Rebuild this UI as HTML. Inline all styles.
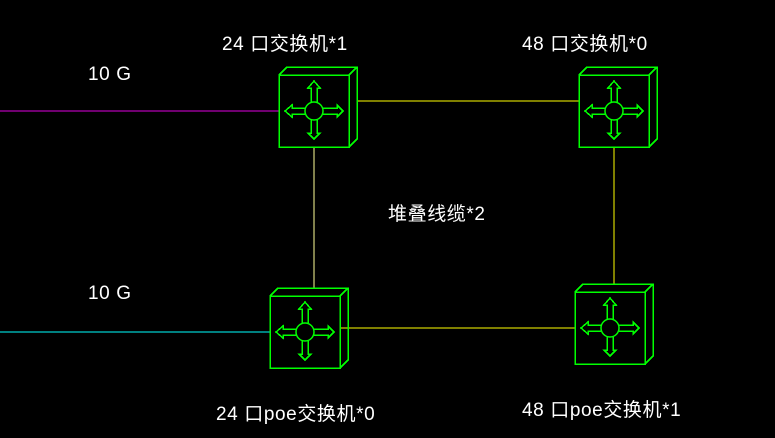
<!DOCTYPE html>
<html><head><meta charset="utf-8"><style>
html,body{margin:0;padding:0;background:#000;width:775px;height:438px;overflow:hidden}
text{font-family:"Liberation Sans","Noto Sans CJK SC",sans-serif;fill:#fff;font-size:19px;letter-spacing:0.6px}
</style></head><body>
<svg width="775" height="438" xmlns="http://www.w3.org/2000/svg" shape-rendering="crispEdges">
<defs>
<g id="sw" fill="none" stroke="#00ff00" stroke-width="1.5">
<rect x="0" y="0" width="70" height="72"/>
<polyline points="0,0 8,-8 78,-8 78,64 70,72"/>
<line x1="70" y1="0" x2="78" y2="-8"/>
<circle cx="35" cy="36" r="9" shape-rendering="auto"/>
<path d="M32,27 V13 H29 L35,6 L41,13 H38 V27"/>
<path d="M32,45 V58 H29 L35,64 L41,58 H38 V45"/>
<path d="M26,33 H13 V30 L6,36 L13,42 V39 H26"/>
<path d="M44,33 H58 V30 L64,36 L58,42 V39 H44"/>
</g>
</defs>
<line x1="0" y1="111" x2="279" y2="111" stroke="#e000e0" stroke-width="1"/>
<line x1="0" y1="332" x2="270" y2="332" stroke="#00ffff" stroke-width="1"/>
<line x1="357" y1="101" x2="579" y2="101" stroke="#ffff00" stroke-width="1"/>
<line x1="340" y1="328" x2="575" y2="328" stroke="#ffff00" stroke-width="1"/>
<line x1="314" y1="147" x2="314" y2="288" stroke="#ffff99" stroke-width="1"/>
<line x1="614" y1="147" x2="614" y2="284" stroke="#ffff00" stroke-width="1"/>
<use href="#sw" x="279" y="75"/>
<use href="#sw" x="579" y="75"/>
<use href="#sw" x="270" y="296"/>
<use href="#sw" x="575" y="292"/>
<text x="222" y="50">24 口交换机*1</text>
<text x="522" y="50">48 口交换机*0</text>
<text x="88" y="80">10 G</text>
<text x="88" y="299">10 G</text>
<text x="388" y="220">堆叠线缆*2</text>
<text x="216" y="420">24 口poe交换机*0</text>
<text x="522" y="416">48 口poe交换机*1</text>
</svg>
</body></html>
